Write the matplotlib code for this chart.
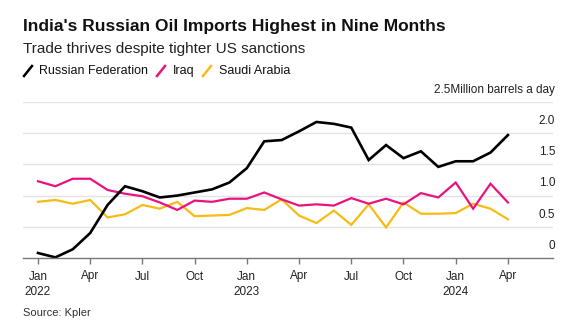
import matplotlib
matplotlib.use('Agg')
import matplotlib.pyplot as plt
import matplotlib.transforms as mtransforms
from matplotlib.lines import Line2D

plt.rcParams['font.family'] = ['Liberation Sans', 'DejaVu Sans']

# monthly, Jan 2022 .. Apr 2024 (million barrels a day)
months = list(range(28))
russia = [0.08, 0.01, 0.14, 0.40, 0.85, 1.15, 1.07, 0.97, 1.00, 1.05, 1.10, 1.21,
          1.44, 1.87, 1.89, 2.03, 2.18, 2.15, 2.09, 1.57, 1.81, 1.60, 1.71, 1.46,
          1.55, 1.55, 1.69, 1.97]
iraq = [1.23, 1.15, 1.27, 1.27, 1.09, 1.03, 0.99, 0.89, 0.77, 0.92, 0.90, 0.95,
        0.95, 1.05, 0.94, 0.84, 0.86, 0.84, 0.96, 0.87, 0.95, 0.86, 1.04, 0.97,
        1.21, 0.79, 1.19, 0.89]
saudi = [0.90, 0.93, 0.87, 0.93, 0.65, 0.70, 0.85, 0.79, 0.90, 0.67, 0.68, 0.69,
         0.80, 0.77, 0.94, 0.68, 0.56, 0.76, 0.53, 0.86, 0.49, 0.89, 0.71, 0.71,
         0.72, 0.87, 0.79, 0.62]

tick_pos = [0, 3, 6, 9, 12, 15, 18, 21, 24, 27]
tick_labels = ['Jan\n2022', 'Apr', 'Jul', 'Oct', 'Jan\n2023', 'Apr', 'Jul', 'Oct',
               'Jan\n2024', 'Apr']
y_ticks = [0, 0.5, 1.0, 1.5, 2.0, 2.5]
y_labels = ['0', '0.5', '1.0', '1.5', '2.0', '2.5Million barrels a day']

series = [('Russian Federation', russia, '#000000', 1.9),
          ('Iraq', iraq, '#e8137e', 1.6),
          ('Saudi Arabia', saudi, '#f7bb15', 1.6)]

W, H = 579, 330
fig = plt.figure(figsize=(W / 100, H / 100), dpi=100)
ax = fig.add_axes([23 / W, (H - 258) / H, 530 / W, 156 / H])

for name, vals, col, lw in series[::-1]:
    ax.plot(months, vals, color=col, lw=lw, solid_joinstyle='miter')

ax.set_xlim(-0.86, 29.59)
ax.set_ylim(0, 2.5)

for v in y_ticks[1:]:
    ax.axhline(v, color='#e3e3e3', lw=1, zorder=0)
trans = mtransforms.blended_transform_factory(ax.transAxes, ax.transData)
for v, lab in zip(y_ticks, y_labels):
    ax.annotate(lab, (1, v), xycoords=trans, xytext=(1.5, 4.5),
                textcoords='offset points', ha='right', va='bottom',
                fontsize=8.5, color='#222222')

for s in ['top', 'right', 'left']:
    ax.spines[s].set_visible(False)
ax.spines['bottom'].set_color('#777777')
ax.spines['bottom'].set_linewidth(1)
ax.set_yticks([])
ax.set_xticks(tick_pos)
ax.set_xticklabels(tick_labels, fontsize=8.5, color='#222222', linespacing=1.35)
ax.tick_params(axis='x', length=4, width=1, color='#777777', pad=5)

# header
fig.text(23 / W, 1 - 27 / H, "India's Russian Oil Imports Highest in Nine Months",
         fontsize=12.5, fontweight='bold', va='center', ha='left', color='#111111')
fig.text(23 / W, 1 - 49 / H, 'Trade thrives despite tighter US sanctions',
         fontsize=11, va='center', ha='left', color='#222222')

# legend with slash markers
leg_x = [(24, 39), (157, 173), (203, 219)]
for (sx, tx), (name, vals, col, lw) in zip(leg_x, series):
    fig.add_artist(Line2D([sx / W, (sx + 8) / W], [1 - 76 / H, 1 - 66 / H],
                          color=col, lw=1.8, transform=fig.transFigure))
    fig.text(tx / W, 1 - 71 / H, name, fontsize=9, va='center', ha='left',
             color='#111111')

fig.text(23 / W, 1 - 313 / H, 'Source: Kpler', fontsize=8, va='center', ha='left',
         color='#333333')

fig.savefig('out.png', dpi=100)
